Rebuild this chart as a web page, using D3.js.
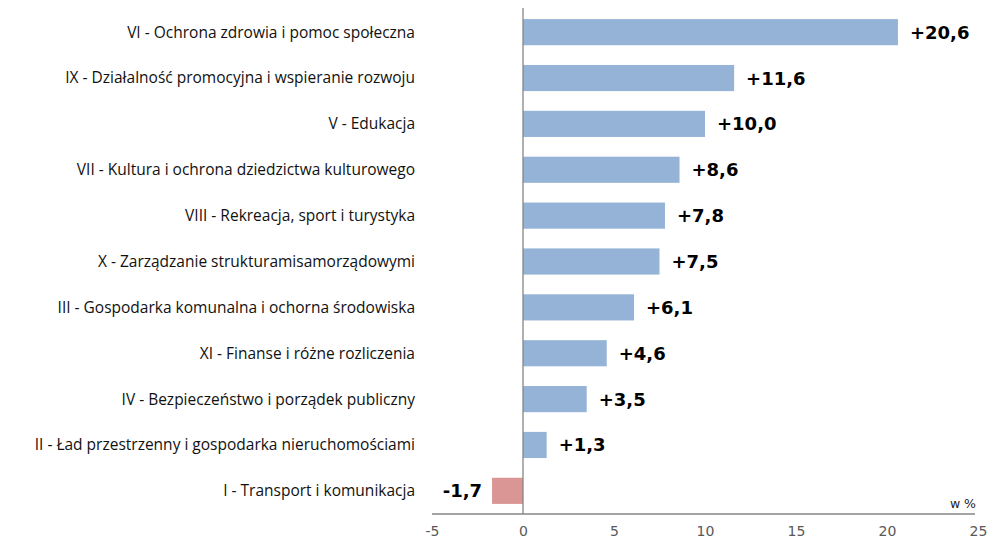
<!DOCTYPE html>
<html>
<head>
<meta charset="utf-8">
<script src="https://cdn.jsdelivr.net/npm/d3@7"></script>
<style>
  body { margin: 0; background: #fff; }
</style>
</head>
<body>
<svg id="chart" width="987" height="540"></svg>
<script>
const categories = [
  "VI - Ochrona zdrowia i pomoc społeczna",
  "IX - Działalność promocyjna i wspieranie rozwoju",
  "V - Edukacja",
  "VII - Kultura i ochrona dziedzictwa kulturowego",
  "VIII - Rekreacja, sport i turystyka",
  "X - Zarządzanie strukturamisamorządowymi",
  "III - Gospodarka komunalna i ochorna środowiska",
  "XI - Finanse i różne rozliczenia",
  "IV - Bezpieczeństwo i porządek publiczny",
  "II - Ład przestrzenny i gospodarka nieruchomościami",
  "I - Transport i komunikacja"
];
const values = [20.6, 11.6, 10.0, 8.6, 7.8, 7.5, 6.1, 4.6, 3.5, 1.3, -1.7];
const ticks = [-5, 0, 5, 10, 15, 20, 25];

const svg = d3.select("#chart");

// plot area
const x = d3.scaleLinear().domain([-5, 25]).range([432, 978]);
const y = d3.scaleBand()
  .domain(categories)
  .range([9, 514])
  .paddingInner(0.43)
  .paddingOuter(0.22);

// hyphen instead of unicode minus, comma as decimal mark
const fmt = v => (v > 0 ? "+" : (v < 0 ? "-" : "")) + Math.abs(v).toFixed(1).replace(".", ",");

// bars
svg.selectAll(".bar")
  .data(values)
  .enter()
  .append("rect")
  .attr("class", "bar")
  .attr("x", d => x(Math.min(0, d)))
  .attr("y", (d, i) => y(categories[i]))
  .attr("width", d => Math.abs(x(d) - x(0)))
  .attr("height", y.bandwidth())
  .attr("fill", d => d < 0 ? "#d99694" : "#95b3d7");

// zero line
svg.append("line")
  .attr("x1", x(0)).attr("x2", x(0))
  .attr("y1", 8).attr("y2", 514)
  .attr("stroke", "#868686")
  .attr("stroke-width", 1.3);

// x axis
const xAxis = d3.axisBottom(x)
  .tickValues(ticks)
  .tickSize(0)
  .tickPadding(12)
  .tickFormat(d => (d < 0 ? "-" : "") + Math.abs(d));

const gx = svg.append("g")
  .attr("transform", "translate(0,514)")
  .call(xAxis);
gx.select(".domain").attr("stroke", "#868686").attr("stroke-width", 1.3)
  .attr("d", "M432,0H975");
gx.selectAll("text")
  .attr("fill", "#595959")
  .style("font-family", "'DejaVu Sans', Verdana, sans-serif")
  .style("font-size", "14px");

// unit label
svg.append("text")
  .attr("x", 976)
  .attr("y", 508)
  .attr("text-anchor", "end")
  .style("font-family", "'DejaVu Sans', Verdana, sans-serif")
  .style("font-size", "12.5px")
  .attr("fill", "#222")
  .text("w %");

// category labels
svg.selectAll(".cat")
  .data(categories)
  .enter()
  .append("text")
  .attr("class", "cat")
  .attr("x", 415)
  .attr("y", d => y(d) + y.bandwidth() / 2)
  .attr("dy", "0.35em")
  .attr("text-anchor", "end")
  .attr("fill", "#111")
  .style("font-family", "'Open Sans', 'Noto Sans', sans-serif")
  .style("font-size", "15.5px")
  .text(d => d);

// value labels
svg.selectAll(".val")
  .data(values)
  .enter()
  .append("text")
  .attr("class", "val")
  .attr("x", d => d < 0 ? x(d) - 10 : x(d) + 12)
  .attr("y", (d, i) => y(categories[i]) + y.bandwidth() / 2)
  .attr("dy", "0.36em")
  .attr("text-anchor", d => d < 0 ? "end" : "start")
  .attr("fill", "#000")
  .style("font-family", "'DejaVu Sans', Verdana, sans-serif")
  .style("font-weight", "bold")
  .style("font-size", "18px")
  .text(d => fmt(d));
</script>
</body>
</html>
